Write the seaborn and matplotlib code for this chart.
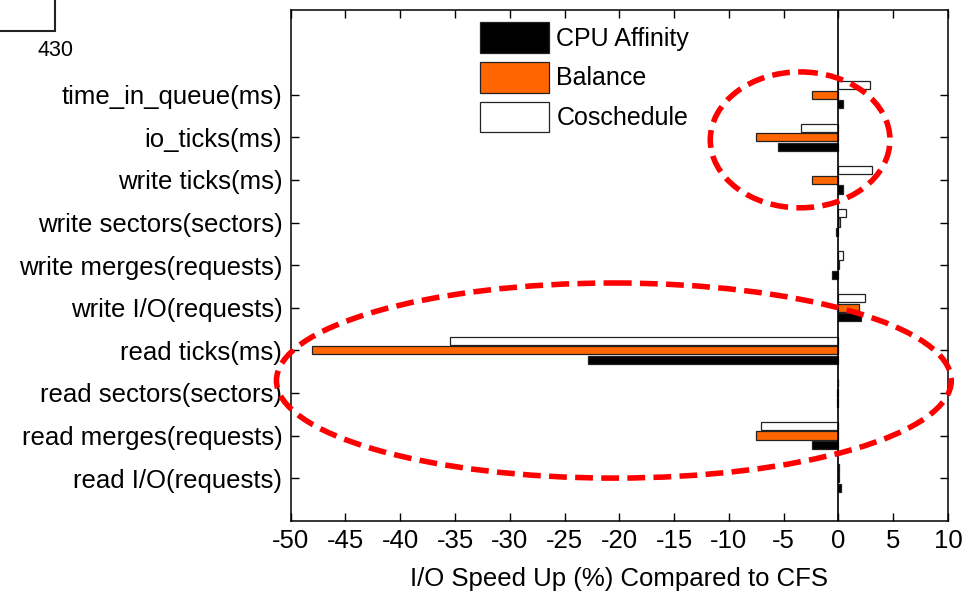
import matplotlib
matplotlib.use("Agg")
import matplotlib.pyplot as plt
from matplotlib.patches import Patch, Ellipse
from matplotlib.lines import Line2D
import numpy as np
import pandas as pd
import seaborn as sns

# I/O metrics, listed top to bottom
metrics = [
    "time_in_queue(ms)", "io_ticks(ms)", "write ticks(ms)",
    "write sectors(sectors)", "write merges(requests)", "write I/O(requests)",
    "read ticks(ms)", "read sectors(sectors)", "read merges(requests)",
    "read I/O(requests)",
]

# Speed-up (%) relative to CFS for each scheduling policy
cpu_affinity = [0.4, -5.5, 0.4, -0.25, -0.55, 2.1, -22.9, -0.1, -2.4, 0.2]
balance = [-2.4, -7.5, -2.4, 0.1, 0.05, 1.9, -48.1, -0.15, -7.5, 0.05]
coschedule = [2.9, -3.4, 3.05, 0.65, 0.45, 2.4, -35.5, -0.05, -7.05, 0.05]

methods = ["CPU Affinity", "Balance", "Coschedule"]
colors = {"CPU Affinity": "#000000", "Balance": "#FF6600", "Coschedule": "#FFFFFF"}
xticks = list(range(-50, 11, 5))

df = pd.DataFrame({
    "metric": metrics * 3,
    "speedup": cpu_affinity + balance + coschedule,
    "method": [m for m in methods for _ in metrics],
})

sns.set_style("white")
plt.rcParams["font.family"] = ["Liberation Sans", "DejaVu Sans"]
plt.rcParams["text.color"] = "black"
plt.rcParams["axes.labelcolor"] = "black"
plt.rcParams["xtick.color"] = "black"
plt.rcParams["ytick.color"] = "black"

W, H = 977, 597
fig = plt.figure(figsize=(W / 100, H / 100), dpi=100)
ax_l, ax_r, ax_t, ax_b = 290.7, 948.0, 9.5, 520.7
ax = fig.add_axes([ax_l / W, 1 - ax_b / H, (ax_r - ax_l) / W, (ax_b - ax_t) / H])

sns.barplot(
    data=df, x="speedup", y="metric", hue="method",
    order=metrics, hue_order=["Coschedule", "Balance", "CPU Affinity"],
    palette=colors, saturation=1, edgecolor="#222222", linewidth=0.9,
    width=0.675, gap=0.15, orient="h", errorbar=None, legend=False, ax=ax,
)

ax.axvline(0, color="black", lw=1.2, zorder=3)
ax.set_xlim(-50, 10)
ax.set_ylim(len(metrics), -2)
ax.set_xticks(xticks)
ax.set_xticklabels([str(t) for t in xticks])
ax.set_ylabel("")
ax.set_xlabel("I/O Speed Up (%) Compared to CFS", fontsize=18.5, labelpad=10)
ax.tick_params(axis="x", direction="in", top=True, bottom=True, length=5.5,
               width=1, labelsize=18.5, pad=6, colors="black")
ax.tick_params(axis="y", direction="in", left=True, right=True, length=5.5,
               width=1, labelsize=18.5, pad=6, colors="black")
for s in ax.spines.values():
    s.set_visible(True)
    s.set_color("black")
    s.set_linewidth(1.1)

handles = [Patch(facecolor=colors[m], edgecolor="#222222", linewidth=0.9, label=m)
           for m in methods]
ax.legend(handles=handles, loc="upper left", bbox_to_anchor=(480 / W, 1 - 22 / H),
          bbox_transform=fig.transFigure, frameon=False, fontsize=18,
          handlelength=2.75, handleheight=1.52, labelspacing=0.36,
          handletextpad=0.3, borderpad=0, borderaxespad=0)

# Dashed highlight rings around the notable groups
for cx, cy, w, h in [(-3.5, 1.06, 16.4, 3.19), (-20.5, 6.71, 61.6, 4.58)]:
    ax.add_patch(Ellipse((cx, cy), w, h, fill=False, edgecolor="#FF0000",
                         lw=4.0, linestyle=(0, (3.2, 1.5)), clip_on=False, zorder=5))

# Corner frame fragment and page number
fig.add_artist(Line2D([0, 55 / W], [1 - 31 / H] * 2, color="#222222", lw=1.5,
                      transform=fig.transFigure))
fig.add_artist(Line2D([55 / W] * 2, [1, 1 - 31 / H], color="#222222", lw=1.5,
                      transform=fig.transFigure))
fig.text(55 / W, 1 - 51 / H, "430", fontsize=15.5, ha="center", va="center")

fig.savefig("out.png", dpi=100)
